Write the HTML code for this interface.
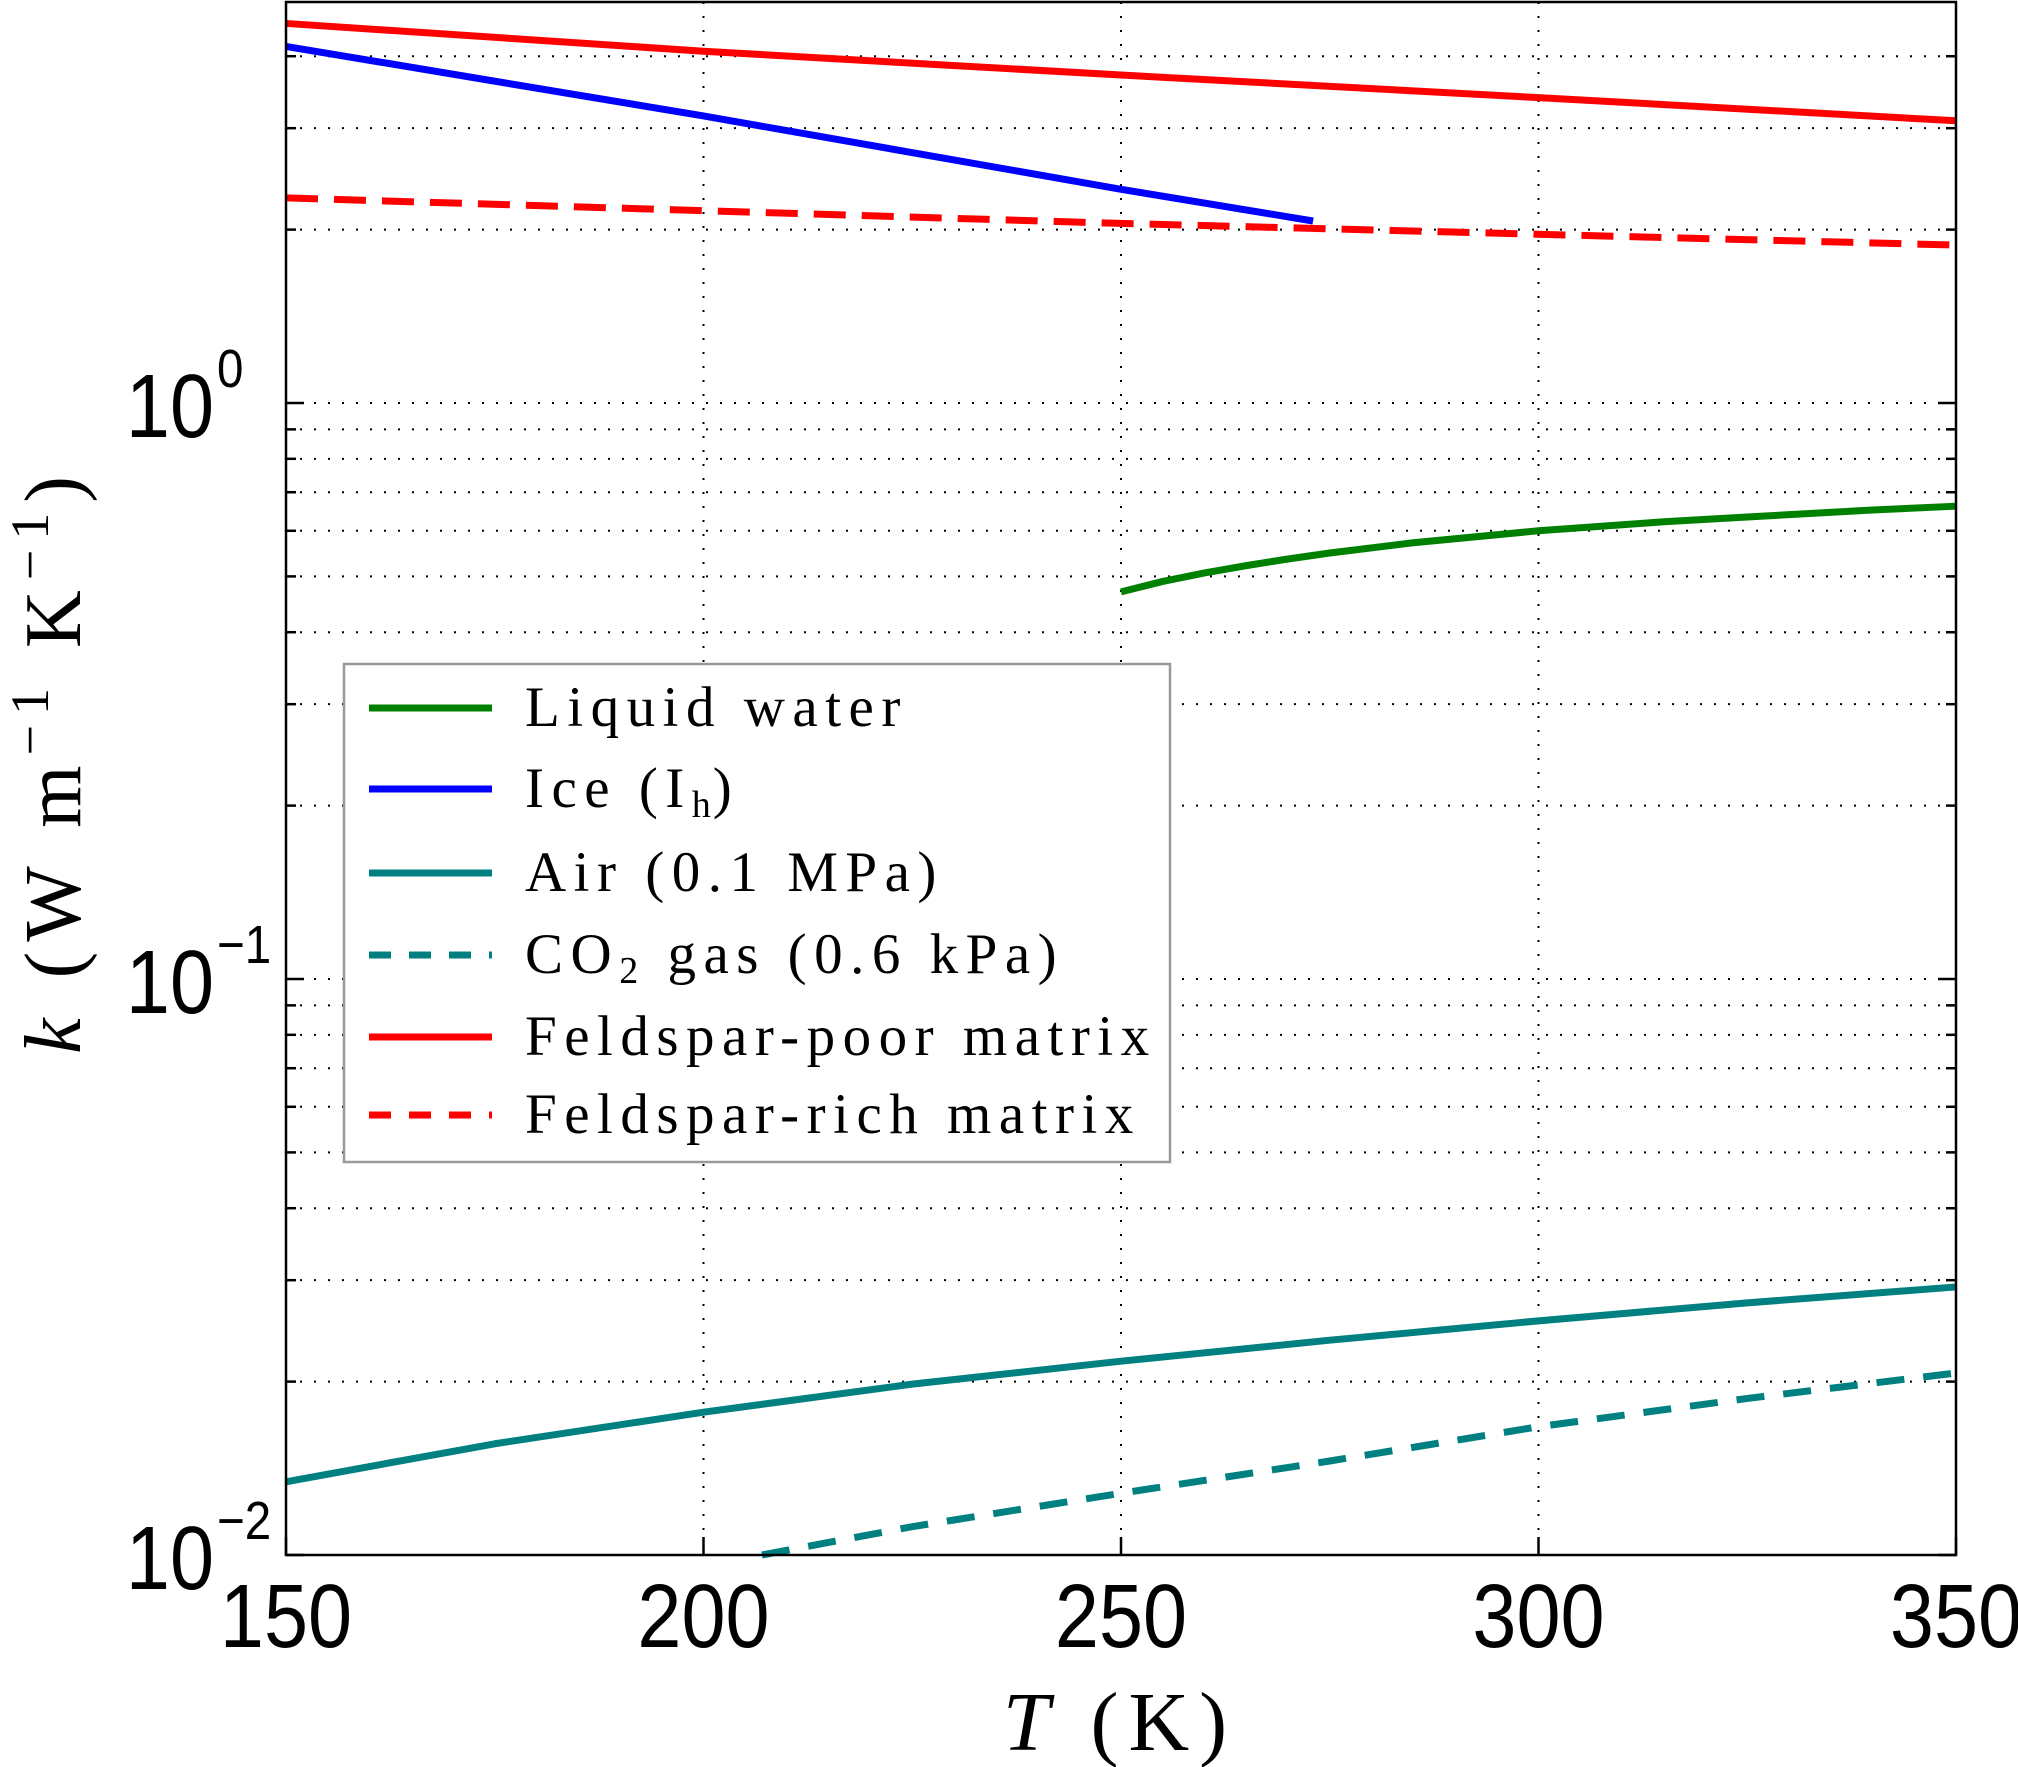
<!DOCTYPE html>
<html><head><meta charset="utf-8"><style>
html,body{margin:0;padding:0;background:#fff;}
svg{display:block;}
.tick{font-family:"Liberation Sans",sans-serif;font-size:90px;fill:#000;}
.tick.exp{font-size:54px;}
.lg{font-family:"Liberation Serif",serif;font-size:57px;letter-spacing:7.5px;fill:#000;}
</style></head><body>
<svg id="chart" xmlns="http://www.w3.org/2000/svg" width="2018" height="1767" viewBox="0 0 2018 1767">
<rect width="2018" height="1767" fill="#fff"/>
<g id="grid"></g>
<g id="series"></g>
<rect x="286" y="2" width="1670" height="1553" fill="none" stroke="#000" stroke-width="2.5"/>
<g id="ticks"></g>
<text x="1120" y="1750" text-anchor="middle" font-family="Liberation Serif,serif" font-size="84" letter-spacing="10"><tspan font-style="italic">T</tspan> (K)</text>
<text transform="translate(80,760) rotate(-90)" text-anchor="middle" font-family="Liberation Serif,serif" font-size="80" letter-spacing="10"><tspan font-style="italic">k</tspan> (W m<tspan dy="-32" font-size="54">−1</tspan><tspan dy="32"> K</tspan><tspan dy="-32" font-size="54">−1</tspan><tspan dy="32">)</tspan></text>
<g>
<rect x="344" y="664" width="826" height="498" fill="#fff" stroke="#999" stroke-width="2.5"/>
<g><line x1="369" y1="708" x2="492" y2="708" stroke="#008000" stroke-width="7"/><text class="lg" x="525" y="726">Liquid water</text></g>
<g><line x1="369" y1="789" x2="492" y2="789" stroke="#0000ff" stroke-width="7"/><text class="lg" x="525" y="807">Ice (I<tspan style="font-size:38px;letter-spacing:2px" dy="10">h</tspan><tspan dy="-10">)</tspan></text></g>
<g><line x1="369" y1="873" x2="492" y2="873" stroke="#008080" stroke-width="7"/><text class="lg" x="525" y="891">Air (0.1 MPa)</text></g>
<g><line x1="369" y1="955" x2="492" y2="955" stroke="#008080" stroke-width="7" stroke-dasharray="22 18"/><text class="lg" x="525" y="973">CO<tspan style="font-size:38px" dy="10">2</tspan><tspan dy="-10"> gas (0.6 kPa)</tspan></text></g>
<g><line x1="369" y1="1037" x2="492" y2="1037" stroke="#ff0000" stroke-width="7"/><text class="lg" x="525" y="1055">Feldspar-poor matrix</text></g>
<g><line x1="369" y1="1115" x2="492" y2="1115" stroke="#ff0000" stroke-width="7" stroke-dasharray="22 18"/><text class="lg" x="525" y="1133">Feldspar-rich matrix</text></g>
</g>
</svg>
<script>
const xTicks=[150,200,250,300,350];
const yDecades=[-2,-1,0];
const feldsparPoorT=[150,200,250,300,350];
const feldsparPoorK=[4.56,4.08,3.71,3.39,3.09];
const iceT=[150,200,250,273];
const iceK=[4.16,3.15,2.35,2.07];
const feldsparRichT=[150,250,350];
const feldsparRichK=[2.27,2.05,1.88];
const liquidT=[250,255,260,265,270,275,285,300,315,325,340,350];
const liquidK=[0.47,0.49,0.507,0.522,0.536,0.549,0.572,0.600,0.622,0.634,0.652,0.662];
const airT=[150,175,200,225,250,275,300,325,350];
const airK=[0.0134,0.0156,0.0177,0.0198,0.0217,0.0236,0.0255,0.0274,0.0292];
const co2T=[207,225,250,275,300,325,350];
const co2K=[0.01,0.0112,0.0128,0.01456,0.0167,0.0187,0.0207];
const X0=286,X1=1956,Y0=1555,DEC=576;
const xs=t=>X0+(t-150)/(350-150)*(X1-X0);
const ys=k=>Y0-(Math.log10(k)+2)*DEC;
const NS='http://www.w3.org/2000/svg';
function mk(tag,parent,attrs){const e=document.createElementNS(NS,tag);for(const a in attrs)e.setAttribute(a,attrs[a]);parent.appendChild(e);return e;}
const grid=document.getElementById('grid'),ticks=document.getElementById('ticks'),ser=document.getElementById('series');
xTicks.forEach(t=>{const x=xs(t);
 if(t>150&&t<350){const g=mk('line',grid,{x1:x,y1:2,x2:x,y2:Y0,stroke:'#000','stroke-width':2,'stroke-dasharray':'2 12'});
 
 }
 const tk=mk('line',ticks,{x1:x,y1:Y0,x2:x,y2:Y0-18,stroke:'#000','stroke-width':2.5});
 
 
 const lb=mk('text',ticks,{x:x,y:1647,'text-anchor':'middle',class:'tick',transform:`translate(${x},0) scale(0.88,1) translate(${-x},0)`});
 lb.textContent=t;
 
 
});
yDecades.forEach(d=>{
 for(let m=1;m<=9;m++){const v=m*Math.pow(10,d);const y=ys(v);if(y<2)continue;
  if(y<Y0-1){const g=mk('line',grid,{x1:X0,y1:y,x2:X1,y2:y,stroke:'#000','stroke-width':2,'stroke-dasharray':'2 12'});
  
  }
  const len=m===1?18:10;
  const t1=mk('line',ticks,{x1:X0,y1:y,x2:X0+len,y2:y,stroke:'#000','stroke-width':2.5});
  
  
  const t2=mk('line',ticks,{x1:X1,y1:y,x2:X1-len,y2:y,stroke:'#000','stroke-width':2.5});
  
  
 }
 const y=ys(Math.pow(10,d));
 const lb=mk('text',ticks,{x:214,y:y+34,'text-anchor':'end',class:'tick',transform:`translate(214,0) scale(0.88,1) translate(-214,0)`});
 lb.textContent='10';
 
 
 const sp=mk('text',ticks,{x:217,y:y-16,'text-anchor':'start',class:'tick exp',transform:`translate(217,0) scale(0.88,1) translate(-217,0)`});
 sp.textContent=d===0?'0':'−'+(-d);
 
 
});
function line(T,K,color,dash,name){
 const p=mk('polyline',ser,{points:T.map((t,i)=>xs(t)+','+ys(K[i])).join(' '),fill:'none',stroke:color,'stroke-width':7,'stroke-dasharray':dash||'none','stroke-linejoin':'round'});
 
 
}
line(liquidT,liquidK,'#008000',null,'liquid-water-line');
line(airT,airK,'#008080',null,'air-line');
line(co2T,co2K,'#008080','28 19','co2-gas-line');
line(feldsparRichT,feldsparRichK,'#ff0000','32 16','feldspar-rich-line');
line(iceT,iceK,'#0000ff',null,'ice-line');
line(feldsparPoorT,feldsparPoorK,'#ff0000',null,'feldspar-poor-line');
</script>
</body></html>
